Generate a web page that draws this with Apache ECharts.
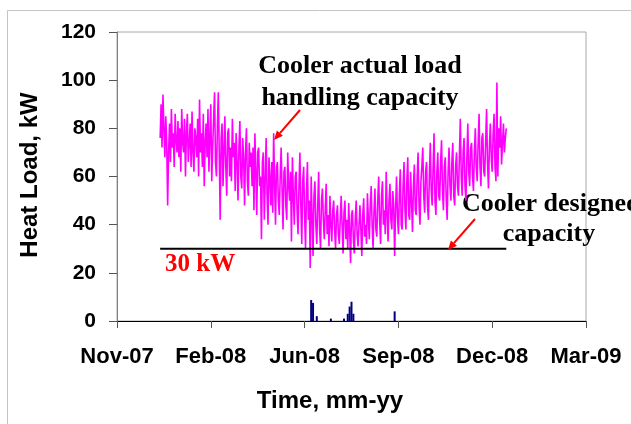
<!DOCTYPE html>
<html>
<head>
<meta charset="utf-8">
<script src="https://cdn.jsdelivr.net/npm/echarts@6/dist/echarts.min.js"></script>
<style>
html,body{margin:0;padding:0;background:#fff;}
#chart{width:631px;height:424px;}
</style>
</head>
<body>
<div id="chart"></div>
<script>
// ---- data ----
const xTickLabels = ['Nov-07', 'Feb-08', 'Jun-08', 'Sep-08', 'Dec-08', 'Mar-09']; // every 100 days from day 0
const xMaxDay = 500;
const yMin = 0, yMax = 120, yStep = 20;

const loadStartDay = 46;   // first daily sample (days after axis start)
const loadStepDays = 1;
const loadValues = [
  76, 90, 72, 94, 80, 68, 85, 74, 48, 70, 82, 66, 88, 72, 78, 64, 86, 75, 70, 83,
  68, 80, 62, 88, 74, 70, 84, 60, 78, 86, 66, 74, 82, 64, 87, 70, 62, 80, 76, 68,
  84, 60, 92, 70, 78, 64, 86, 56, 74, 82, 68, 88, 62, 76, 90, 58, 72, 84, 95, 66,
  60, 80, 95, 70, 42, 76, 82, 56, 70, 85, 64, 52, 78, 80, 60, 72, 58, 84, 68, 74,
  54, 78, 66, 50, 72, 83, 60, 55, 76, 68, 48, 70, 80, 58, 52, 74, 64, 70, 56, 72,
  46, 78, 62, 44, 70, 72, 56, 60, 34, 66, 70, 42, 58, 76, 52, 40, 68, 60, 48, 66,
  45, 78, 58, 40, 64, 66, 50, 44, 60, 72, 54, 38, 62, 64, 48, 42, 70, 56, 50, 62,
  33, 68, 52, 40, 60, 62, 46, 36, 56, 70, 48, 32, 58, 64, 44, 30, 54, 66, 42, 50,
  22, 60, 44, 27, 52, 58, 40, 32, 48, 62, 38, 30, 50, 55, 42, 34, 46, 57, 36, 44,
  31, 52, 40, 33, 46, 50, 38, 30, 44, 48, 36, 32, 42, 52, 40, 28, 45, 50, 34, 42,
  30, 49, 38, 24, 44, 46, 34, 28, 42, 50, 36, 31, 40, 48, 38, 27, 44, 51, 35, 40,
  32, 53, 42, 34, 48, 56, 40, 30, 46, 55, 38, 35, 50, 60, 42, 32, 52, 58, 40, 46,
  36, 62, 44, 33, 50, 57, 42, 38, 54, 48, 27, 46, 60, 44, 36, 52, 63, 40, 38, 56,
  66, 46, 38, 58, 68, 44, 42, 62, 50, 37, 56, 65, 46, 44, 60, 70, 48, 40, 58, 64,
  72, 52, 45, 62, 66, 48, 42, 60, 74, 54, 48, 64, 78, 50, 44, 62, 70, 52, 50, 66,
  75, 54, 46, 64, 68, 50, 42, 62, 72, 56, 50, 66, 74, 52, 48, 64, 70, 56, 52, 68,
  84, 60, 52, 70, 76, 56, 50, 68, 82, 62, 56, 72, 74, 60, 54, 70, 80, 64, 58, 74,
  86, 64, 56, 76, 78, 62, 60, 74, 88, 66, 55, 72, 82, 68, 62, 78, 86, 64, 58, 99,
  60, 80, 72, 85, 65, 74, 82, 70, 76, 80
];

const designDays = [46, 415];
const designValue = 30;

const spikeDays = [207, 209, 213, 228, 242, 246, 248, 250, 252, 296];
const spikeValues = [8.7, 7.5, 2, 1, 1, 3, 6, 8, 3, 4];

// ---- build ----
const loadData = loadValues.map((v, i) => [loadStartDay + i * loadStepDays, v]);
const designData = designDays.map(d => [d, designValue]);
const spikeData = spikeDays.map((d, i) => [d, spikeValues[i]]);

const chart = echarts.init(document.getElementById('chart'), null, {renderer: 'canvas'});
const serif = '"Liberation Serif", "Times New Roman", serif';
const sans = '"Liberation Sans", Arial, sans-serif';

function arrow(x1, y1, x2, y2) {
  const ang = Math.atan2(y2 - y1, x2 - x1);
  const L = 9, W = 4;
  const bx = x2 - L * Math.cos(ang), by = y2 - L * Math.sin(ang);
  const px = -Math.sin(ang) * W, py = Math.cos(ang) * W;
  return [
    {type: 'line', shape: {x1: x1, y1: y1, x2: bx, y2: by}, style: {stroke: '#ff0000', lineWidth: 2}, z: 100},
    {type: 'polygon', shape: {points: [[x2, y2], [bx + px, by + py], [bx - px, by - py]]}, style: {fill: '#ff0000'}, z: 100}
  ];
}

chart.setOption({
  animation: false,
  backgroundColor: '#ffffff',
  grid: {left: 117, right: 45, top: 32, bottom: 103, show: true, borderColor: '#a8a8a8', borderWidth: 1, backgroundColor: 'transparent'},
  xAxis: {
    type: 'value', min: 0, max: xMaxDay, interval: 100,
    axisLine: {show: true, lineStyle: {color: '#000', width: 1}},
    axisTick: {show: true, inside: false, length: 7, lineStyle: {color: '#555'}},
    splitLine: {show: false},
    axisLabel: {
      formatter: v => xTickLabels[Math.round(v / 100)] || '',
      fontFamily: sans, fontWeight: 'bold', fontSize: 22, color: '#000', margin: 25
    }
  },
  yAxis: {
    type: 'value', min: yMin, max: yMax, interval: yStep,
    axisLine: {show: true, lineStyle: {color: '#808080', width: 1}},
    axisTick: {show: true, inside: false, length: 8, lineStyle: {color: '#555'}},
    splitLine: {show: false},
    axisLabel: {fontFamily: sans, fontWeight: 'bold', fontSize: 21, color: '#000', margin: 21}
  },
  series: [
    {type: 'line', data: loadData, showSymbol: false, symbol: 'none', lineStyle: {color: '#ff00ff', width: 1.6}, z: 2},
    {type: 'line', data: designData, showSymbol: false, symbol: 'none', lineStyle: {color: '#000', width: 2}, z: 3},
    {type: 'bar', data: spikeData, barWidth: 2, itemStyle: {color: '#000080'}, z: 4}
  ],
  graphic: [
    {type: 'rect', shape: {x: 7.5, y: 10.5, width: 700, height: 500}, style: {fill: 'none', stroke: '#c4c4c4', lineWidth: 1}, z: 0, silent: true},
    {type: 'text', x: 30, y: 175, rotation: Math.PI / 2, style: {text: 'Heat Load, kW', font: 'bold 24px ' + sans, fill: '#000', align: 'center', verticalAlign: 'middle'}},
    {type: 'text', x: 330, y: 401, style: {text: 'Time, mm-yy', font: 'bold 24px ' + sans, fill: '#000', align: 'center', verticalAlign: 'middle'}},
    {type: 'text', x: 360, y: 66, style: {text: 'Cooler actual load', font: 'bold 26px ' + serif, fill: '#000', align: 'center', verticalAlign: 'middle'}},
    {type: 'text', x: 360, y: 98, style: {text: 'handling capacity', font: 'bold 26px ' + serif, fill: '#000', align: 'center', verticalAlign: 'middle'}},
    {type: 'text', x: 462, y: 204, style: {text: 'Cooler designed', font: 'bold 26px ' + serif, fill: '#000', align: 'left', verticalAlign: 'middle'}},
    {type: 'text', x: 549, y: 234, style: {text: 'capacity', font: 'bold 26px ' + serif, fill: '#000', align: 'center', verticalAlign: 'middle'}},
    {type: 'text', x: 165, y: 265, style: {text: '30 kW', font: 'bold 25px ' + serif, fill: '#ff0000', align: 'left', verticalAlign: 'middle'}}
  ].concat(arrow(300, 110, 274, 140)).concat(arrow(475, 219, 448, 250))
});
</script>
</body>
</html>
